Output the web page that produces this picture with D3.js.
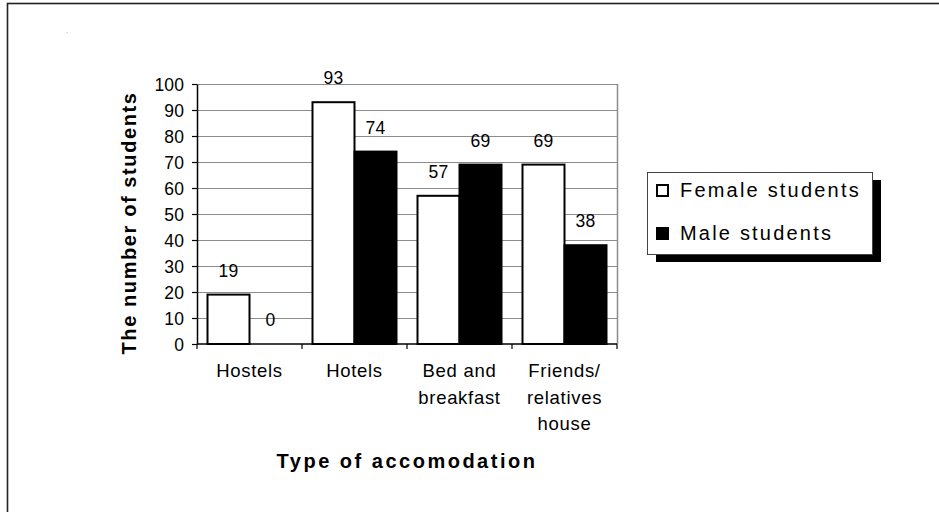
<!DOCTYPE html>
<html>
<head>
<meta charset="utf-8">
<script src="https://cdn.jsdelivr.net/npm/d3@7"></script>
<style>
  html, body { margin: 0; padding: 0; background: #fff; }
  svg { display: block; }
  text { font-family: "Liberation Sans", Arial, sans-serif; fill: #000; }
</style>
</head>
<body>
<svg id="chart" width="939" height="512"></svg>
<script>
// Accommodation used by students, by gender
const categories = ["Hostels", "Hotels", "Bed and\nbreakfast", "Friends/\nrelatives\nhouse"];
const seriesNames = ["Female students", "Male students"];
const femaleValues = [19, 93, 57, 69];
const maleValues = [0, 74, 69, 38];
const yTicks = [0, 10, 20, 30, 40, 50, 60, 70, 80, 90, 100];

const seriesFill = { "Female students": "#ffffff", "Male students": "#000000" };

const rows = categories.map((c, i) => ({
  category: c,
  values: [
    { series: seriesNames[0], value: femaleValues[i] },
    { series: seriesNames[1], value: maleValues[i] }
  ]
}));

const svg = d3.select("#chart");

// outer chart frame
svg.append("rect")
  .attr("x", 7.5).attr("y", 3.5)
  .attr("width", 960).attr("height", 540)
  .attr("fill", "none").attr("stroke", "#222").attr("stroke-width", 1.6);

// empty title placeholder
svg.append("text")
  .attr("x", 66).attr("y", 33)
  .attr("font-size", 8).style("fill", "#999")
  .text(".");

const plot = { left: 197, right: 617, top: 84, bottom: 344 };

const x0 = d3.scaleBand().domain(categories).range([plot.left, plot.right]).padding(0);
const x1 = d3.scaleBand().domain(seriesNames).range([10.5, x0.bandwidth() - 10.5]).padding(0);
const y = d3.scaleLinear().domain([0, 100]).range([plot.bottom, plot.top]);

// gridlines
svg.append("g")
  .selectAll("line")
  .data(yTicks.filter(t => t > 0))
  .join("line")
  .attr("x1", plot.left).attr("x2", plot.right)
  .attr("y1", d => Math.round(y(d)) + 0.5).attr("y2", d => Math.round(y(d)) + 0.5)
  .attr("stroke", "#8c8c8c").attr("stroke-width", 1);

// right border of plot area
svg.append("line")
  .attr("x1", plot.right + 0.5).attr("x2", plot.right + 0.5)
  .attr("y1", plot.top).attr("y2", plot.bottom)
  .attr("stroke", "#8c8c8c").attr("stroke-width", 1.5);

// bars
const groups = svg.append("g")
  .selectAll("g")
  .data(rows)
  .join("g")
  .attr("transform", d => `translate(${x0(d.category)},0)`);

groups.selectAll("rect")
  .data(d => d.values)
  .join("rect")
  .attr("x", d => x1(d.series))
  .attr("y", d => y(d.value))
  .attr("width", x1.bandwidth())
  .attr("height", d => y(0) - y(d.value))
  .attr("fill", d => seriesFill[d.series])
  .attr("stroke", "#000")
  .attr("stroke-width", 2);

// value labels
groups.selectAll("text.val")
  .data(d => d.values)
  .join("text")
  .attr("class", "val")
  .attr("x", d => x1(d.series) + x1.bandwidth() / 2)
  .attr("y", d => y(d.value) - 18)
  .attr("text-anchor", "middle")
  .attr("font-size", 17.5)
  .style("letter-spacing", "0.3px")
  .text(d => d.value);

// y axis
const yAxis = svg.append("g")
  .attr("transform", `translate(${plot.left},0)`)
  .call(d3.axisLeft(y).tickValues(yTicks).tickSize(5).tickPadding(8).tickSizeOuter(0));
yAxis.select(".domain").attr("stroke", "#000").attr("stroke-width", 1.5);
yAxis.selectAll(".tick line").attr("stroke", "#000").attr("stroke-width", 1.2);
yAxis.selectAll(".tick text")
  .attr("font-size", 17.5)
  .attr("font-family", "Liberation Sans, Arial, sans-serif")
  .attr("dy", "0.35em")
  .style("letter-spacing", "0.1px");

// x axis line and category dividers
const xAxisG = svg.append("g");
xAxisG.append("line")
  .attr("x1", plot.left).attr("x2", plot.right)
  .attr("y1", plot.bottom).attr("y2", plot.bottom)
  .attr("stroke", "#000").attr("stroke-width", 1.5);
const boundaries = categories.map(c => x0(c)).concat([plot.right]);
xAxisG.selectAll("line.tick")
  .data(boundaries)
  .join("line")
  .attr("class", "tick")
  .attr("x1", d => d).attr("x2", d => d)
  .attr("y1", plot.bottom).attr("y2", plot.bottom + 5)
  .attr("stroke", "#000").attr("stroke-width", 1.2);

// category labels
const catLabels = svg.append("g")
  .selectAll("text")
  .data(categories)
  .join("text")
  .attr("x", d => x0(d) + x0.bandwidth() / 2)
  .attr("y", 377)
  .attr("text-anchor", "middle")
  .attr("font-size", 18.5)
  .style("letter-spacing", "0.7px");
catLabels.selectAll("tspan")
  .data(d => d.split("\n"))
  .join("tspan")
  .attr("x", function () { return d3.select(this.parentNode).attr("x"); })
  .attr("dy", (d, i) => i === 0 ? 0 : 26.5)
  .text(d => d);

// axis titles
svg.append("text")
  .attr("x", (plot.left + plot.right) / 2)
  .attr("y", 468)
  .attr("text-anchor", "middle")
  .attr("font-size", 20)
  .attr("font-weight", "bold")
  .style("letter-spacing", "2.5px")
  .text("Type of accomodation");

svg.append("text")
  .attr("transform", "translate(136,223) rotate(-90)")
  .attr("text-anchor", "middle")
  .attr("font-size", 20)
  .attr("font-weight", "bold")
  .style("letter-spacing", "1.6px")
  .text("The number of students");

// legend
const legend = { x: 647, y: 172, w: 225, h: 82 };
svg.append("rect")
  .attr("x", legend.x + 9).attr("y", legend.y + 8)
  .attr("width", legend.w).attr("height", legend.h)
  .attr("fill", "#000");
svg.append("rect")
  .attr("x", legend.x + 0.5).attr("y", legend.y + 0.5)
  .attr("width", legend.w).attr("height", legend.h)
  .attr("fill", "#fff").attr("stroke", "#444").attr("stroke-width", 1);

const legendItems = svg.append("g")
  .selectAll("g")
  .data(seriesNames)
  .join("g")
  .attr("transform", (d, i) => `translate(${legend.x},${legend.y + 25 + i * 43})`);
legendItems.append("rect")
  .attr("x", 10).attr("y", -12)
  .attr("width", 11).attr("height", 11)
  .attr("fill", d => seriesFill[d])
  .attr("stroke", "#000").attr("stroke-width", 2);
legendItems.append("text")
  .attr("x", 33).attr("y", 0)
  .attr("font-size", 20)
  .style("letter-spacing", "2.2px")
  .text(d => d);
</script>
</body>
</html>
